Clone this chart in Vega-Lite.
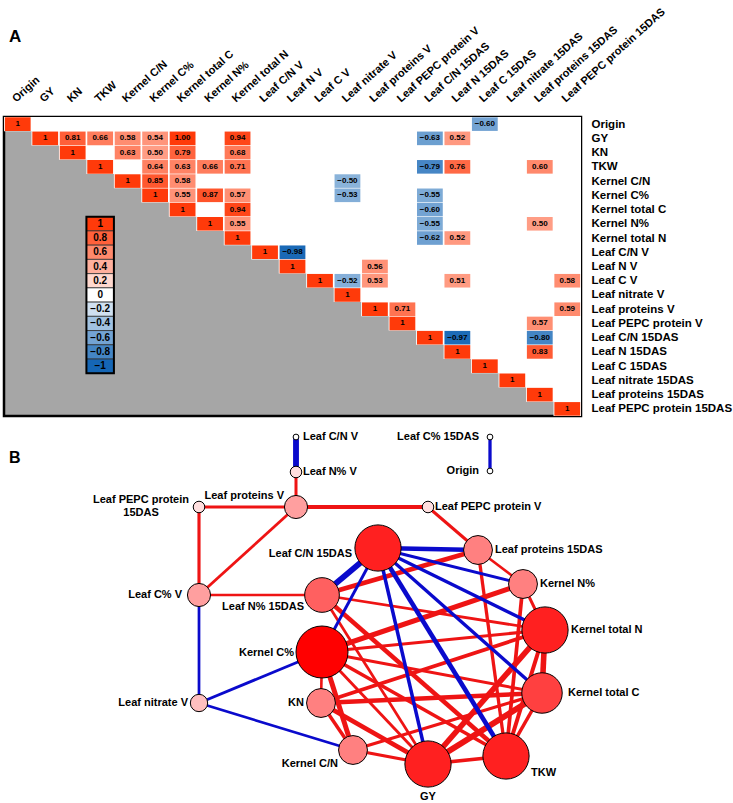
{
  "$schema": "https://vega.github.io/schema/vega-lite/v6.json",
  "padding": {"left": 2, "top": 4, "right": 0, "bottom": 0},
  "background": "white",
  "bounds": "flush",
  "spacing": 14,
  "config": {"font": "Liberation Sans", "view": {"stroke": null},
    "axisX": {"orient": "top", "values": [0,1,2,3,4,5,6,7,8,9,10,11,12,13,14,15,16,17,18,19,20],
      "labelExpr": "['Origin','GY','KN','TKW','Kernel C/N','Kernel C%','Kernel total C','Kernel N%','Kernel total N','Leaf C/N V','Leaf N V','Leaf C V','Leaf nitrate V','Leaf proteins V','Leaf PEPC protein V','Leaf C/N 15DAS','Leaf N 15DAS','Leaf C 15DAS','Leaf nitrate 15DAS','Leaf proteins 15DAS','Leaf PEPC protein 15DAS'][datum.value]",
      "labelAngle": -42, "labelAlign": "left", "labelBaseline": "middle", "labelPadding": 17, "labelOffset": -4,
      "ticks": false, "domain": false, "grid": false, "title": null, "labelFont": "Liberation Sans", "labelFontSize": 11, "labelFontWeight": "bold", "labelColor": "black", "labelOverlap": false, "labelBound": false, "labelFlush": false, "labelLimit": 300}
  },
  "resolve": {"scale": {"fill": "independent", "size": "independent", "stroke": "independent", "strokeWidth": "independent"}},
  "datasets": {
    "stairs": [{"k":-1},{"k":0},{"k":1},{"k":2},{"k":3},{"k":4},{"k":5},{"k":6},{"k":7},{"k":8},{"k":9},{"k":10},{"k":11},{"k":12},{"k":13},{"k":14},{"k":15},{"k":16},{"k":17},{"k":18},{"k":19},{"k":20},{"k":21}],
    "cells": [
      {"i":0,"j":0,"v":1},{"i":1,"j":1,"v":1},{"i":2,"j":2,"v":1},{"i":3,"j":3,"v":1},{"i":4,"j":4,"v":1},{"i":5,"j":5,"v":1},{"i":6,"j":6,"v":1},{"i":7,"j":7,"v":1},{"i":8,"j":8,"v":1},{"i":9,"j":9,"v":1},{"i":10,"j":10,"v":1},{"i":11,"j":11,"v":1},{"i":12,"j":12,"v":1},{"i":13,"j":13,"v":1},{"i":14,"j":14,"v":1},{"i":15,"j":15,"v":1},{"i":16,"j":16,"v":1},{"i":17,"j":17,"v":1},{"i":18,"j":18,"v":1},{"i":19,"j":19,"v":1},{"i":20,"j":20,"v":1},
      {"i":0,"j":17,"v":-0.60},
      {"i":1,"j":2,"v":0.81},{"i":1,"j":3,"v":0.66},{"i":1,"j":4,"v":0.58},{"i":1,"j":5,"v":0.54},{"i":1,"j":6,"v":1.00},{"i":1,"j":8,"v":0.94},{"i":1,"j":15,"v":-0.63},{"i":1,"j":16,"v":0.52},
      {"i":2,"j":4,"v":0.63},{"i":2,"j":5,"v":0.50},{"i":2,"j":6,"v":0.79},{"i":2,"j":8,"v":0.68},
      {"i":3,"j":5,"v":0.64},{"i":3,"j":6,"v":0.63},{"i":3,"j":7,"v":0.66},{"i":3,"j":8,"v":0.71},{"i":3,"j":15,"v":-0.79},{"i":3,"j":16,"v":0.76},{"i":3,"j":19,"v":0.60},
      {"i":4,"j":5,"v":0.85},{"i":4,"j":6,"v":0.58},{"i":4,"j":12,"v":-0.50},
      {"i":5,"j":6,"v":0.55},{"i":5,"j":7,"v":0.87},{"i":5,"j":8,"v":0.57},{"i":5,"j":12,"v":-0.53},{"i":5,"j":15,"v":-0.55},
      {"i":6,"j":8,"v":0.94},{"i":6,"j":15,"v":-0.60},
      {"i":7,"j":8,"v":0.55},{"i":7,"j":15,"v":-0.55},{"i":7,"j":19,"v":0.50},
      {"i":8,"j":15,"v":-0.62},{"i":8,"j":16,"v":0.52},
      {"i":9,"j":10,"v":-0.98},
      {"i":10,"j":13,"v":0.56},
      {"i":11,"j":12,"v":-0.52},{"i":11,"j":13,"v":0.53},{"i":11,"j":16,"v":0.51},{"i":11,"j":20,"v":0.58},
      {"i":13,"j":14,"v":0.71},{"i":13,"j":20,"v":0.59},
      {"i":14,"j":19,"v":0.57},
      {"i":15,"j":16,"v":-0.97},{"i":15,"j":19,"v":-0.80},
      {"i":16,"j":19,"v":0.83}
    ],
    "legend": [{"v":1,"i":7},{"v":0.8,"i":8},{"v":0.6,"i":9},{"v":0.4,"i":10},{"v":0.2,"i":11},{"v":0,"i":12},{"v":-0.2,"i":13},{"v":-0.4,"i":14},{"v":-0.6,"i":15},{"v":-0.8,"i":16},{"v":-1,"i":17}],
    "nodes": [
      {"name":"Leaf C/N V","x":292,"y":7,"degree":1},
      {"name":"Leaf N% V","x":292,"y":42,"degree":2},
      {"name":"Leaf proteins V","x":292,"y":77,"degree":4},
      {"name":"Leaf PEPC protein 15DAS","x":195,"y":77,"degree":2},
      {"name":"Leaf C% V","x":195,"y":165,"degree":4},
      {"name":"Leaf nitrate V","x":195,"y":273,"degree":3},
      {"name":"Leaf C% 15DAS","x":486,"y":7,"degree":1},
      {"name":"Origin","x":486,"y":41,"degree":1},
      {"name":"Leaf PEPC protein V","x":424,"y":77,"degree":2},
      {"name":"Leaf proteins 15DAS","x":474,"y":120,"degree":5},
      {"name":"Kernel N%","x":519,"y":154,"degree":5},
      {"name":"Leaf C/N 15DAS","x":374,"y":118,"degree":8},
      {"name":"Leaf N% 15DAS","x":318,"y":165,"degree":6},
      {"name":"Kernel C%","x":318,"y":222,"degree":9},
      {"name":"KN","x":317,"y":273,"degree":5},
      {"name":"Kernel C/N","x":349,"y":320,"degree":5},
      {"name":"GY","x":424,"y":334,"degree":8},
      {"name":"TKW","x":502,"y":326,"degree":8},
      {"name":"Kernel total C","x":538,"y":263,"degree":7},
      {"name":"Kernel total N","x":541,"y":200,"degree":8}
    ],
    "edges": [
      {"s":"GY","t":"KN","r":0.81},
      {"s":"GY","t":"TKW","r":0.66},
      {"s":"GY","t":"Kernel C/N","r":0.58},
      {"s":"GY","t":"Kernel C%","r":0.54},
      {"s":"GY","t":"Kernel total C","r":1.00},
      {"s":"GY","t":"Kernel total N","r":0.94},
      {"s":"GY","t":"Leaf N% 15DAS","r":0.52},
      {"s":"KN","t":"Kernel C/N","r":0.63},
      {"s":"KN","t":"Kernel C%","r":0.50},
      {"s":"KN","t":"Kernel total C","r":0.79},
      {"s":"KN","t":"Kernel total N","r":0.68},
      {"s":"TKW","t":"Kernel C%","r":0.64},
      {"s":"TKW","t":"Kernel total C","r":0.63},
      {"s":"TKW","t":"Kernel N%","r":0.66},
      {"s":"TKW","t":"Kernel total N","r":0.71},
      {"s":"TKW","t":"Leaf N% 15DAS","r":0.76},
      {"s":"TKW","t":"Leaf proteins 15DAS","r":0.60},
      {"s":"Kernel C/N","t":"Kernel C%","r":0.85},
      {"s":"Kernel C/N","t":"Kernel total C","r":0.58},
      {"s":"Kernel C%","t":"Kernel total C","r":0.55},
      {"s":"Kernel C%","t":"Kernel N%","r":0.87},
      {"s":"Kernel C%","t":"Kernel total N","r":0.57},
      {"s":"Kernel total C","t":"Kernel total N","r":0.94},
      {"s":"Kernel N%","t":"Kernel total N","r":0.55},
      {"s":"Kernel N%","t":"Leaf proteins 15DAS","r":0.50},
      {"s":"Kernel total N","t":"Leaf N% 15DAS","r":0.52},
      {"s":"Leaf N% V","t":"Leaf proteins V","r":0.56},
      {"s":"Leaf C% V","t":"Leaf proteins V","r":0.53},
      {"s":"Leaf C% V","t":"Leaf N% 15DAS","r":0.51},
      {"s":"Leaf C% V","t":"Leaf PEPC protein 15DAS","r":0.58},
      {"s":"Leaf proteins V","t":"Leaf PEPC protein V","r":0.71},
      {"s":"Leaf proteins V","t":"Leaf PEPC protein 15DAS","r":0.59},
      {"s":"Leaf PEPC protein V","t":"Leaf proteins 15DAS","r":0.57},
      {"s":"Leaf N% 15DAS","t":"Leaf proteins 15DAS","r":0.83},
      {"s":"Leaf C/N V","t":"Leaf N% V","r":-0.98},
      {"s":"Leaf C% V","t":"Leaf nitrate V","r":-0.52},
      {"s":"Kernel C/N","t":"Leaf nitrate V","r":-0.50},
      {"s":"Kernel C%","t":"Leaf nitrate V","r":-0.53},
      {"s":"Origin","t":"Leaf C% 15DAS","r":-0.60},
      {"s":"GY","t":"Leaf C/N 15DAS","r":-0.63},
      {"s":"TKW","t":"Leaf C/N 15DAS","r":-0.79},
      {"s":"Kernel C%","t":"Leaf C/N 15DAS","r":-0.55},
      {"s":"Kernel total C","t":"Leaf C/N 15DAS","r":-0.60},
      {"s":"Kernel N%","t":"Leaf C/N 15DAS","r":-0.55},
      {"s":"Kernel total N","t":"Leaf C/N 15DAS","r":-0.62},
      {"s":"Leaf C/N 15DAS","t":"Leaf N% 15DAS","r":-0.97},
      {"s":"Leaf C/N 15DAS","t":"Leaf proteins 15DAS","r":-0.80}
    ]
  },
  "vconcat": [
    {
      "width": 577,
      "height": 299,
      "title": {"text": "A", "anchor": "start", "frame": "group", "fontSize": 17, "fontWeight": "bold", "font": "Liberation Sans", "color": "black", "dx": 5, "dy": 44},
      "view": {"fill": "#A6A6A6", "stroke": "black", "strokeWidth": 2.5},
      "resolve": {"scale": {"y": "independent"}},
      "layer": [
        {
          "data": {"name": "stairs"},
          "mark": {"type": "area", "interpolate": "step", "color": "white", "clip": true},
          "encoding": {
            "x": {"field": "k", "type": "quantitative", "scale": {"domain": [-0.5, 20.5], "nice": false, "zero": false}},
            "y": {"field": "k", "type": "quantitative", "scale": {"domain": [-1, 20], "reverse": true, "nice": false, "zero": false}, "axis": null},
            "y2": {"datum": -1}
          }
        },
        {
          "data": {"name": "cells"},
          "mark": {"type": "rect", "width": 25.8, "height": 13.6},
          "encoding": {
            "x": {"field": "j", "type": "quantitative", "scale": {"domain": [-0.5, 20.5], "nice": false, "zero": false}},
            "y": {"field": "i", "type": "quantitative", "scale": {"domain": [-0.5, 20.5], "reverse": true, "nice": false, "zero": false},
              "axis": {"orient": "right", "values": [0,1,2,3,4,5,6,7,8,9,10,11,12,13,14,15,16,17,18,19,20],
                "labelExpr": "['Origin','GY','KN','TKW','Kernel C/N','Kernel C%','Kernel total C','Kernel N%','Kernel total N','Leaf C/N V','Leaf N V','Leaf C V','Leaf nitrate V','Leaf proteins V','Leaf PEPC protein V','Leaf C/N 15DAS','Leaf N 15DAS','Leaf C 15DAS','Leaf nitrate 15DAS','Leaf proteins 15DAS','Leaf PEPC protein 15DAS'][datum.value]",
                "labelPadding": 10, "labelAlign": "left", "labelBaseline": "middle", "ticks": false, "domain": false, "grid": false, "title": null, "labelFont": "Liberation Sans", "labelFontSize": 11.5, "labelFontWeight": "bold", "labelColor": "black", "labelOverlap": false, "labelBound": false, "labelFlush": false, "labelLimit": 300}},
            "fill": {"field": "v", "type": "quantitative", "scale": {"domain": [-1, 0, 1], "range": ["#1566B5", "#FFFFFF", "#FF3A0A"], "interpolate": "rgb"}, "legend": null}
          }
        },
        {
          "data": {"name": "cells"},
          "mark": {"type": "text", "fontSize": 8, "fontWeight": "bold", "font": "Liberation Sans", "color": "black"},
          "encoding": {
            "x": {"field": "j", "type": "quantitative", "scale": {"domain": [-0.5, 20.5], "nice": false, "zero": false}},
            "y": {"field": "i", "type": "quantitative", "scale": {"domain": [-0.5, 20.5], "reverse": true, "nice": false, "zero": false}, "axis": null},
            "text": {"condition": {"test": "datum.i === datum.j", "value": "1"}, "field": "v", "type": "quantitative", "format": ".2f"}
          }
        },
        {
          "data": {"name": "legend"},
          "mark": {"type": "rect", "width": 27.5, "height": 14.24, "stroke": "#333333", "strokeWidth": 0.8},
          "encoding": {
            "x": {"datum": 3, "type": "quantitative", "scale": {"domain": [-0.5, 20.5], "nice": false, "zero": false}},
            "y": {"field": "i", "type": "quantitative", "scale": {"domain": [-0.5, 20.5], "reverse": true, "nice": false, "zero": false}, "axis": null},
            "fill": {"field": "v", "type": "quantitative", "legend": null}
          }
        },
        {
          "data": {"name": "legend"},
          "mark": {"type": "text", "fontSize": 10, "fontWeight": "bold", "font": "Liberation Sans", "color": "black"},
          "encoding": {
            "x": {"datum": 3, "type": "quantitative", "scale": {"domain": [-0.5, 20.5], "nice": false, "zero": false}},
            "y": {"field": "i", "type": "quantitative", "scale": {"domain": [-0.5, 20.5], "reverse": true, "nice": false, "zero": false}, "axis": null},
            "text": {"field": "v", "type": "quantitative", "format": "~g"}
          }
        },
        {
          "data": {"values": [{"legendBox": "border"}]},
          "mark": {"type": "rect", "fill": null, "fillOpacity": 0, "stroke": "black", "strokeWidth": 2},
          "encoding": {
            "x": {"datum": 2.5, "type": "quantitative", "scale": {"domain": [-0.5, 20.5], "nice": false, "zero": false}},
            "x2": {"datum": 3.5},
            "y": {"datum": 6.5, "type": "quantitative", "scale": {"domain": [-0.5, 20.5], "reverse": true, "nice": false, "zero": false}, "axis": null},
            "y2": {"datum": 17.5}
          }
        }
      ]
    },
    {
      "width": 727,
      "height": 373,
      "title": {"text": "B", "anchor": "start", "frame": "group", "fontSize": 16, "fontWeight": "bold", "font": "Liberation Sans", "color": "black", "dx": 5, "dy": 40},
      "view": {"stroke": null},
      "encoding": {
        "x": {"field": "x", "type": "quantitative", "scale": {"domain": [0, 727], "nice": false, "zero": false}, "axis": null},
        "y": {"field": "y", "type": "quantitative", "scale": {"domain": [0, 373], "reverse": true, "nice": false, "zero": false}, "axis": null}
      },
      "layer": [
        {
          "data": {"name": "edges"},
          "transform": [
            {"lookup": "s", "from": {"data": {"values": [
              {"name":"Leaf C/N V","x":292,"y":7},{"name":"Leaf N% V","x":292,"y":42},{"name":"Leaf proteins V","x":292,"y":77},{"name":"Leaf PEPC protein 15DAS","x":195,"y":77},{"name":"Leaf C% V","x":195,"y":165},{"name":"Leaf nitrate V","x":195,"y":273},{"name":"Leaf C% 15DAS","x":486,"y":7},{"name":"Origin","x":486,"y":41},{"name":"Leaf PEPC protein V","x":424,"y":77},{"name":"Leaf proteins 15DAS","x":474,"y":120},{"name":"Kernel N%","x":519,"y":154},{"name":"Leaf C/N 15DAS","x":374,"y":118},{"name":"Leaf N% 15DAS","x":318,"y":165},{"name":"Kernel C%","x":318,"y":222},{"name":"KN","x":317,"y":273},{"name":"Kernel C/N","x":349,"y":320},{"name":"GY","x":424,"y":334},{"name":"TKW","x":502,"y":326},{"name":"Kernel total C","x":538,"y":263},{"name":"Kernel total N","x":541,"y":200}
            ]}, "key": "name", "fields": ["x", "y"]}, "as": ["sx", "sy"]},
            {"lookup": "t", "from": {"data": {"values": [
              {"name":"Leaf C/N V","x":292,"y":7},{"name":"Leaf N% V","x":292,"y":42},{"name":"Leaf proteins V","x":292,"y":77},{"name":"Leaf PEPC protein 15DAS","x":195,"y":77},{"name":"Leaf C% V","x":195,"y":165},{"name":"Leaf nitrate V","x":195,"y":273},{"name":"Leaf C% 15DAS","x":486,"y":7},{"name":"Origin","x":486,"y":41},{"name":"Leaf PEPC protein V","x":424,"y":77},{"name":"Leaf proteins 15DAS","x":474,"y":120},{"name":"Kernel N%","x":519,"y":154},{"name":"Leaf C/N 15DAS","x":374,"y":118},{"name":"Leaf N% 15DAS","x":318,"y":165},{"name":"Kernel C%","x":318,"y":222},{"name":"KN","x":317,"y":273},{"name":"Kernel C/N","x":349,"y":320},{"name":"GY","x":424,"y":334},{"name":"TKW","x":502,"y":326},{"name":"Kernel total C","x":538,"y":263},{"name":"Kernel total N","x":541,"y":200}
            ]}, "key": "name", "fields": ["x", "y"]}, "as": ["tx", "ty"]}
          ],
          "mark": {"type": "rule", "strokeCap": "butt"},
          "encoding": {
            "x": {"field": "sx", "type": "quantitative", "scale": {"domain": [0, 727], "nice": false, "zero": false}, "axis": null},
            "y": {"field": "sy", "type": "quantitative", "scale": {"domain": [0, 373], "reverse": true, "nice": false, "zero": false}, "axis": null},
            "x2": {"field": "tx"},
            "y2": {"field": "ty"},
            "stroke": {"field": "r", "type": "quantitative", "scale": {"type": "threshold", "domain": [0], "range": ["#0A0ACC", "#EE1414"]}, "legend": null},
            "strokeWidth": {"field": "r", "type": "quantitative", "scale": {"domain": [-1, -0.5, 0.5, 1], "range": [6, 2.6, 2.6, 6], "zero": false}, "legend": null}
          }
        },
        {
          "data": {"name": "nodes"},
          "mark": {"type": "point", "shape": "circle", "filled": true, "stroke": "black", "strokeWidth": 1, "opacity": 1},
          "encoding": {
            "size": {"field": "degree", "type": "quantitative", "scale": {"type": "pow", "exponent": 2, "domain": [0, 9], "range": [0, 2704]}, "legend": null},
            "fill": {"field": "degree", "type": "quantitative", "scale": {"domain": [1, 9], "range": ["#FFFFFF", "#FF0000"], "interpolate": "rgb"}, "legend": null}
          }
        },
        {
          "data": {"name": "nodes"},
          "transform": [{"filter": {"field": "name", "oneOf": ["Leaf C/N V", "Leaf N% V", "Leaf PEPC protein V"]}}],
          "mark": {"type": "text", "align": "left", "baseline": "middle", "dx": 7, "fontSize": 11, "fontWeight": "bold", "font": "Liberation Sans", "color": "black"},
          "encoding": {"text": {"field": "name"}}
        },
        {
          "data": {"name": "nodes"},
          "transform": [{"filter": {"field": "name", "oneOf": ["Leaf proteins 15DAS", "Kernel N%"]}}],
          "mark": {"type": "text", "align": "left", "baseline": "middle", "dx": 17, "fontSize": 11, "fontWeight": "bold", "font": "Liberation Sans", "color": "black"},
          "encoding": {"text": {"field": "name"}}
        },
        {
          "data": {"name": "nodes"},
          "transform": [{"filter": {"field": "name", "oneOf": ["Kernel total N", "Kernel total C"]}}],
          "mark": {"type": "text", "align": "left", "baseline": "middle", "dx": 26, "fontSize": 11, "fontWeight": "bold", "font": "Liberation Sans", "color": "black"},
          "encoding": {"text": {"field": "name"}}
        },
        {
          "data": {"name": "nodes"},
          "transform": [{"filter": {"field": "name", "oneOf": ["TKW"]}}],
          "mark": {"type": "text", "align": "left", "baseline": "middle", "dx": 25, "dy": 17, "fontSize": 11, "fontWeight": "bold", "font": "Liberation Sans", "color": "black"},
          "encoding": {"text": {"field": "name"}}
        },
        {
          "data": {"name": "nodes"},
          "transform": [{"filter": {"field": "name", "oneOf": ["Leaf C% 15DAS", "Origin", "Leaf nitrate V"]}}],
          "mark": {"type": "text", "align": "right", "baseline": "middle", "dx": -11, "fontSize": 11, "fontWeight": "bold", "font": "Liberation Sans", "color": "black"},
          "encoding": {"text": {"field": "name"}}
        },
        {
          "data": {"name": "nodes"},
          "transform": [{"filter": {"field": "name", "oneOf": ["Leaf C% V", "KN"]}}],
          "mark": {"type": "text", "align": "right", "baseline": "middle", "dx": -17, "fontSize": 11, "fontWeight": "bold", "font": "Liberation Sans", "color": "black"},
          "encoding": {"text": {"field": "name"}}
        },
        {
          "data": {"name": "nodes"},
          "transform": [{"filter": {"field": "name", "oneOf": ["Kernel C%"]}}],
          "mark": {"type": "text", "align": "right", "baseline": "middle", "dx": -28, "dy": 1, "fontSize": 11, "fontWeight": "bold", "font": "Liberation Sans", "color": "black"},
          "encoding": {"text": {"field": "name"}}
        },
        {
          "data": {"name": "nodes"},
          "transform": [{"filter": {"field": "name", "oneOf": ["Leaf C/N 15DAS"]}}],
          "mark": {"type": "text", "align": "right", "baseline": "middle", "dx": -26, "dy": 6, "fontSize": 11, "fontWeight": "bold", "font": "Liberation Sans", "color": "black"},
          "encoding": {"text": {"field": "name"}}
        },
        {
          "data": {"name": "nodes"},
          "transform": [{"filter": {"field": "name", "oneOf": ["Leaf proteins V"]}}],
          "mark": {"type": "text", "align": "right", "baseline": "middle", "dx": -12, "dy": -11, "fontSize": 11, "fontWeight": "bold", "font": "Liberation Sans", "color": "black"},
          "encoding": {"text": {"field": "name"}}
        },
        {
          "data": {"name": "nodes"},
          "transform": [{"filter": {"field": "name", "oneOf": ["Leaf N% 15DAS"]}}],
          "mark": {"type": "text", "align": "right", "baseline": "middle", "dx": -18, "dy": 12, "fontSize": 11, "fontWeight": "bold", "font": "Liberation Sans", "color": "black"},
          "encoding": {"text": {"field": "name"}}
        },
        {
          "data": {"name": "nodes"},
          "transform": [{"filter": {"field": "name", "oneOf": ["Kernel C/N"]}}],
          "mark": {"type": "text", "align": "right", "baseline": "middle", "dx": -15, "dy": 14, "fontSize": 11, "fontWeight": "bold", "font": "Liberation Sans", "color": "black"},
          "encoding": {"text": {"field": "name"}}
        },
        {
          "data": {"name": "nodes"},
          "transform": [{"filter": {"field": "name", "oneOf": ["GY"]}}],
          "mark": {"type": "text", "align": "center", "baseline": "middle", "dy": 33, "fontSize": 11, "fontWeight": "bold", "font": "Liberation Sans", "color": "black"},
          "encoding": {"text": {"field": "name"}}
        },
        {
          "data": {"name": "nodes"},
          "transform": [{"filter": {"field": "name", "oneOf": ["Leaf PEPC protein 15DAS"]}}],
          "mark": {"type": "text", "align": "center", "baseline": "middle", "dx": -58, "dy": -7, "lineHeight": 13, "text": ["Leaf PEPC protein", "15DAS"], "fontSize": 11, "fontWeight": "bold", "font": "Liberation Sans", "color": "black"},
          "encoding": {}
        }
      ]
    }
  ]
}
